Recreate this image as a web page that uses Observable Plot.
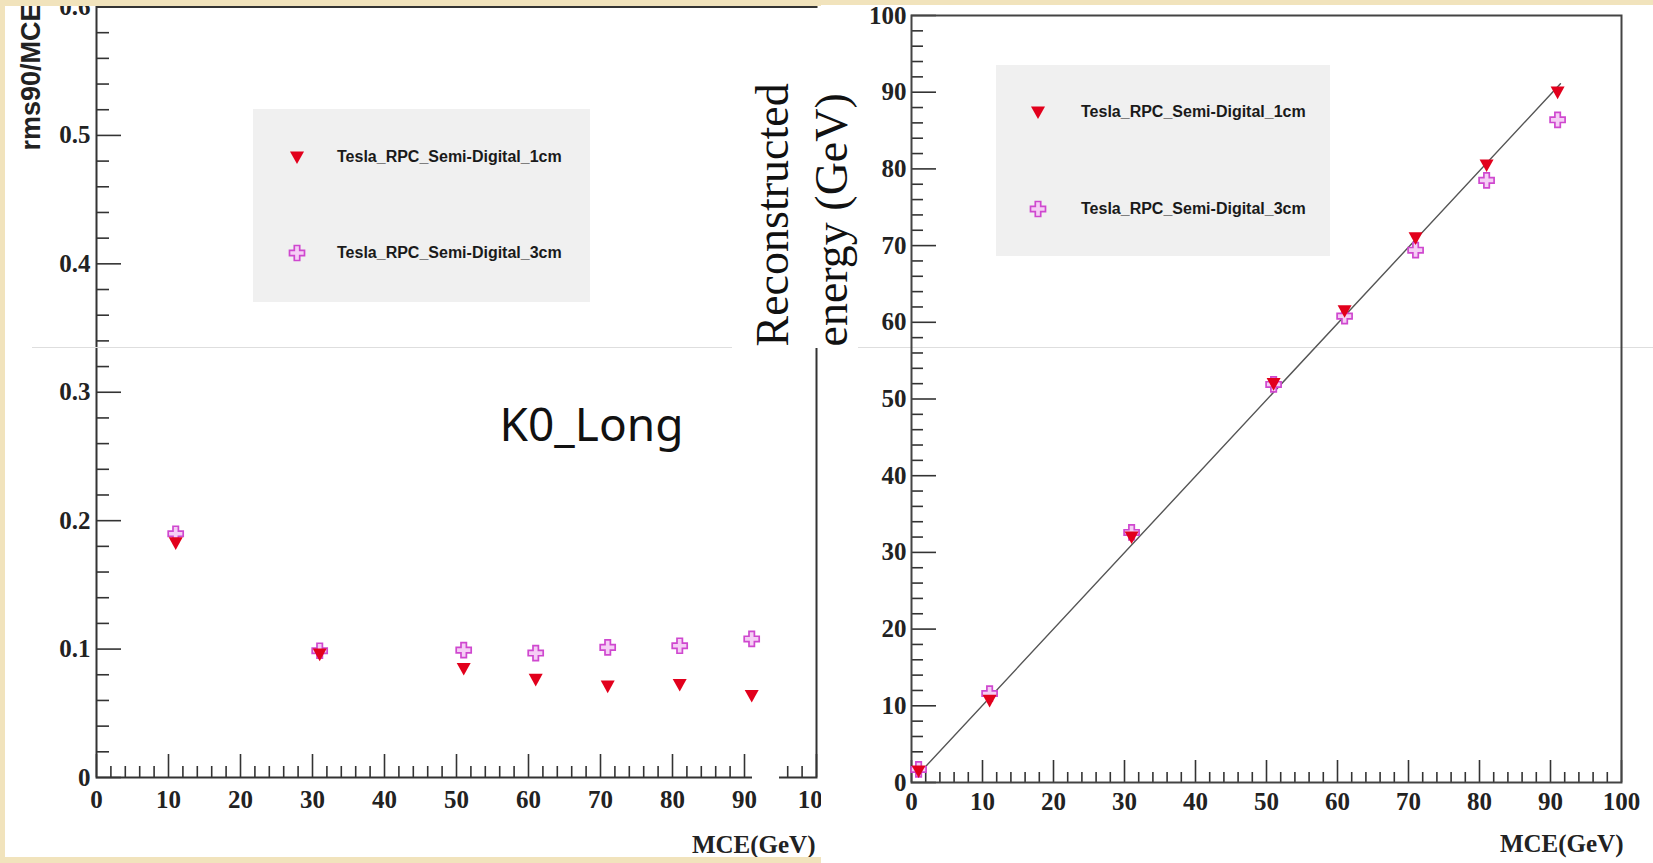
<!DOCTYPE html>
<html><head><meta charset="utf-8">
<script src="https://cdn.jsdelivr.net/npm/d3@7"></script>
<script src="https://cdn.jsdelivr.net/npm/@observablehq/plot@0.6"></script>
<style>
html,body{margin:0;padding:0;}
body{width:1653px;height:863px;overflow:hidden;background:#f1e3bc;}
#stage{position:relative;width:1653px;height:863px;background:#f1e3bc;}
.abs{position:absolute;}
.white{background:#fff;}
svg{max-width:none !important;}
.legend{position:absolute;background:#f0f0f0;}
.legend .item{position:absolute;font:bold 16px "Liberation Sans",Arial,sans-serif;color:#1a1a1a;white-space:nowrap;line-height:1;transform:translateY(-50%);}
.legend svg{position:absolute;overflow:visible;}
</style></head><body>
<div id="stage">
  <div class="abs white" style="left:5px;top:6px;width:817px;height:851px;overflow:hidden"><div id="leftPlot" class="abs" style="left:-5px;top:-6px;width:830px;height:863px"></div></div>
  <div class="abs white" style="left:821px;top:5px;width:832px;height:858px"></div>
  <div class="abs" style="left:752px;top:764px;width:27px;height:18px;background:#fff"></div>
  <div class="abs" style="left:32px;top:347px;width:1621px;height:1px;background:#dedede"></div>
  <div class="abs white" style="left:732px;top:8px;width:126px;height:340px"></div>
  <div id="rightPlot" class="abs" style="left:722px;top:0px;width:931px;height:863px"></div>
  <div id="legL" class="legend" style="left:253px;top:109px;width:337px;height:193px"></div>
  <div id="legR" class="legend" style="left:996px;top:65px;width:334px;height:191px"></div>
</div>
<script>
// ---------- data ----------
const seriesNames = ["Tesla_RPC_Semi-Digital_1cm", "Tesla_RPC_Semi-Digital_3cm"];

// left panel: rms90/MCE vs MCE
const energiesL = [11, 31, 51, 61, 71, 81, 91];
const res1cm = [0.1827, 0.0960, 0.0848, 0.0764, 0.0711, 0.0724, 0.0638];
const res3cm = [0.1898, 0.0987, 0.0992, 0.0969, 0.1013, 0.1026, 0.1079];

// right panel: reconstructed energy vs MCE
const energiesR = [1, 11, 31, 51, 61, 71, 81, 91];
const reco1cm = [1.5, 10.7, 32.0, 52.0, 61.5, 71.0, 80.5, 90.0];
const reco3cm = [1.7, 11.6, 32.6, 51.9, 60.8, 69.4, 78.5, 86.4];
const fitX = [1, 91.4];
const fitY = [1.1, 91.1];

// ticks
const xMajor = [0, 10, 20, 30, 40, 50, 60, 70, 80, 90, 100];
const xMajorLabels = ["0", "10", "20", "30", "40", "50", "60", "70", "80", "90", "100"];
const xMinor = [2,4,6,8,12,14,16,18,22,24,26,28,32,34,36,38,42,44,46,48,52,54,56,58,62,64,66,68,72,74,76,78,82,84,86,88,92,94,96,98];
const yLMajor = [0, 0.1, 0.2, 0.3, 0.4, 0.5, 0.6];
const yLMajorLabels = ["0", "0.1", "0.2", "0.3", "0.4", "0.5", "0.6"];
const yLMinor = [0.02,0.04,0.06,0.08,0.12,0.14,0.16,0.18,0.22,0.24,0.26,0.28,0.32,0.34,0.36,0.38,0.42,0.44,0.46,0.48,0.52,0.54,0.56,0.58];
const yRMajor = [0, 10, 20, 30, 40, 50, 60, 70, 80, 90, 100];
const yRMajorLabels = ["0", "10", "20", "30", "40", "50", "60", "70", "80", "90", "100"];
const yRMinor = xMinor;

// ---------- styles ----------
const RED = "#e2001c";
const MAG = "#cf48cf";
const MAGFILL = "#f5cef5";
const AXIS = "#333";
const serif = "'Liberation Serif','Times New Roman',serif";
const sans = "'Liberation Sans',Arial,sans-serif";

const triDown = {draw(ctx, size) {
  const r = Math.sqrt(size / Math.PI);
  ctx.moveTo(-r, -0.8 * r); ctx.lineTo(r, -0.8 * r); ctx.lineTo(0, r); ctx.closePath();
}};
const openCross = {draw(ctx, size) {
  const r = Math.sqrt(size / Math.PI), w = r * 0.36;
  ctx.moveTo(-w, -r); ctx.lineTo(w, -r); ctx.lineTo(w, -w); ctx.lineTo(r, -w);
  ctx.lineTo(r, w); ctx.lineTo(w, w); ctx.lineTo(w, r); ctx.lineTo(-w, r);
  ctx.lineTo(-w, w); ctx.lineTo(-r, w); ctx.lineTo(-r, -w); ctx.lineTo(-w, -w); ctx.closePath();
}};

const tbl = (xs, ys) => xs.map((x, i) => ({x, y: ys[i]}));

// ---------- left plot ----------
{
  const W = 830, H = 863, mL = 96, mR = 14, mT = 6.5, mB = 86;
  const pw = W - mL - mR, ph = H - mT - mB;
  const tickLabelY = yLMajor.map((v, i) => ({v, t: yLMajorLabels[i]}));
  const tickLabelX = xMajor.map((v, i) => ({v, t: xMajorLabels[i]}));
  const p = Plot.plot({
    width: W, height: H, marginLeft: mL, marginRight: mR, marginTop: mT, marginBottom: mB,
    style: {background: "transparent", overflow: "visible", maxWidth: "none"},
    x: {domain: [0, 100], axis: null},
    y: {domain: [0, 0.6], axis: null},
    marks: [
      Plot.ruleX(xMinor, {stroke: AXIS, strokeWidth: 1.6, insetTop: ph - 11}),
      Plot.ruleX(xMajor, {stroke: AXIS, strokeWidth: 1.6, insetTop: ph - 23}),
      Plot.ruleY(yLMinor, {stroke: AXIS, strokeWidth: 1.6, insetRight: pw - 13}),
      Plot.ruleY(yLMajor, {stroke: AXIS, strokeWidth: 1.6, insetRight: pw - 25}),
      Plot.frame({stroke: AXIS, strokeWidth: 2}),
      Plot.text(tickLabelX, {x: "v", text: "t", frameAnchor: "bottom", dy: 30, fontSize: 25, fontWeight: "bold", fontFamily: serif, fill: "#222"}),
      Plot.text(tickLabelY, {y: "v", text: "t", frameAnchor: "left", dx: -6, textAnchor: "end", fontSize: 25, fontWeight: "bold", fontFamily: serif, fill: "#222"}),
      Plot.dot(tbl(energiesL, res3cm), {x: "x", y: "y", symbol: openCross, r: 7.5, fill: MAGFILL, stroke: MAG, strokeWidth: 1.7}),
      Plot.dot(tbl(energiesL, res1cm), {x: "x", y: "y", symbol: triDown, r: 7, fill: RED}),
      Plot.text(["MCE(GeV)"], {frameAnchor: "bottom-right", dx: -1, dy: 75, textAnchor: "end", fontSize: 25, fontWeight: "bold", fontFamily: serif, fill: "#222"}),
      Plot.text(["rms90/MCE"], {frameAnchor: "top-left", dx: 20 - mL, dy: 150 - mT, rotate: -90, textAnchor: "start", fontSize: 27, fontWeight: "bold", fontFamily: sans, fill: "#222"}),
      Plot.text(["K0_Long"], {frameAnchor: "top-left", dx: 591 - mL, dy: 408 - mT, textAnchor: "middle", fontSize: 46, fontFamily: "'Noto Sans','DejaVu Sans',sans-serif", fill: "#111"})
    ]
  });
  document.getElementById("leftPlot").appendChild(p);
}

// ---------- right plot ----------
{
  const W = 931, H = 863, mL = 189, mR = 32, mT = 15, mB = 81;
  const pw = W - mL - mR, ph = H - mT - mB;
  const tickLabelY = yRMajor.map((v, i) => ({v, t: yRMajorLabels[i]}));
  const tickLabelX = xMajor.map((v, i) => ({v, t: xMajorLabels[i]}));
  const p = Plot.plot({
    width: W, height: H, marginLeft: mL, marginRight: mR, marginTop: mT, marginBottom: mB,
    style: {background: "transparent", overflow: "visible", maxWidth: "none"},
    x: {domain: [0, 100], axis: null},
    y: {domain: [0, 100], axis: null},
    marks: [
      Plot.ruleX(xMinor, {stroke: AXIS, strokeWidth: 1.6, insetTop: ph - 10}),
      Plot.ruleX(xMajor, {stroke: AXIS, strokeWidth: 1.6, insetTop: ph - 22}),
      Plot.ruleY(yRMinor, {stroke: AXIS, strokeWidth: 1.6, insetRight: pw - 12}),
      Plot.ruleY(yRMajor, {stroke: AXIS, strokeWidth: 1.6, insetRight: pw - 25}),
      Plot.frame({stroke: "#444", strokeWidth: 2}),
      Plot.text(tickLabelX, {x: "v", text: "t", frameAnchor: "bottom", dy: 27, fontSize: 25, fontWeight: "bold", fontFamily: serif, fill: "#222"}),
      Plot.text(tickLabelY, {y: "v", text: "t", frameAnchor: "left", dx: -5, textAnchor: "end", fontSize: 25, fontWeight: "bold", fontFamily: serif, fill: "#222"}),
      Plot.line(tbl(fitX, fitY), {x: "x", y: "y", stroke: "#555", strokeWidth: 1.4}),
      Plot.dot(tbl(energiesR, reco3cm), {x: "x", y: "y", symbol: openCross, r: 7.5, fill: MAGFILL, stroke: MAG, strokeWidth: 1.7}),
      Plot.dot(tbl(energiesR, reco1cm), {x: "x", y: "y", symbol: triDown, r: 7, fill: RED}),
      Plot.text(["MCE(GeV)"], {frameAnchor: "bottom-right", dx: 2, dy: 69, textAnchor: "end", fontSize: 25, fontWeight: "bold", fontFamily: serif, fill: "#222"}),
      Plot.text(["Reconstructed"], {frameAnchor: "top-left", dx: 755 - 911, dy: 346 - mT, rotate: -90, textAnchor: "start", fontSize: 46, fontFamily: serif, fill: "#111"}),
      Plot.text(["energy (GeV)"], {frameAnchor: "top-left", dx: 814 - 911, dy: 346 - mT, rotate: -90, textAnchor: "start", fontSize: 46, fontFamily: serif, fill: "#111"})
    ]
  });
  document.getElementById("rightPlot").appendChild(p);
}

// ---------- legends ----------
function symPath(sym, r) { const pth = d3.path(); sym.draw(pth, r * r * Math.PI); return pth.toString(); }
function buildLegend(id, mx, rows, tx) {
  const el = document.getElementById(id);
  const syms = [
    {p: symPath(triDown, 7), fill: RED, stroke: "none", sw: 0},
    {p: symPath(openCross, 7.5), fill: MAGFILL, stroke: MAG, sw: 1.7}
  ];
  rows.forEach((ry, i) => {
    const s = syms[i];
    const svg = document.createElementNS("http://www.w3.org/2000/svg", "svg");
    svg.setAttribute("width", 20); svg.setAttribute("height", 20);
    svg.style.left = (mx - 10) + "px"; svg.style.top = (ry - 10) + "px";
    svg.innerHTML = `<path transform="translate(10,10)" d="${s.p}" fill="${s.fill}" stroke="${s.stroke}" stroke-width="${s.sw}"/>`;
    el.appendChild(svg);
    const t = document.createElement("div");
    t.className = "item"; t.textContent = seriesNames[i];
    t.style.left = tx + "px"; t.style.top = ry + "px";
    el.appendChild(t);
  });
}
buildLegend("legL", 297 - 253, [157 - 109, 253 - 109], 337 - 253);
buildLegend("legR", 1038 - 996, [112 - 65, 209 - 65], 1081 - 996);
</script>
</body></html>
